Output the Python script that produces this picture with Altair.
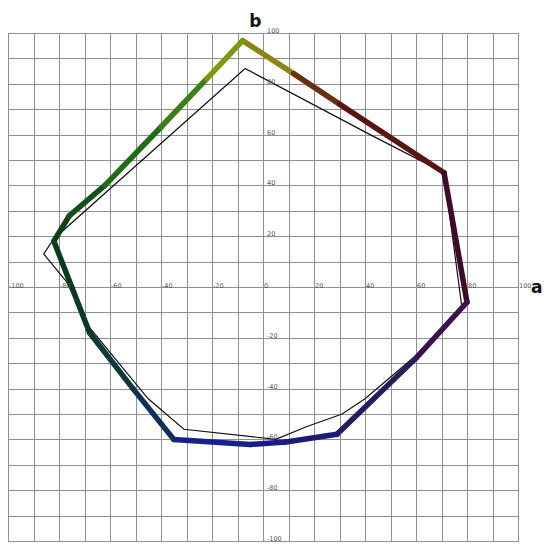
import altair as alt
import pandas as pd

# Thick coloured gamut outline (a*, b*) and segment colours
thick_a = [-8, 12, 30, 71, 80, 60, 29, 9, -5, -35, -51, -68, -75, -82, -76, -62, -40, -22, -8]
thick_b = [97, 84, 72, 45, -6, -28, -58, -61, -62, -60, -40, -18, 0, 18, 28, 40, 63, 82, 97]
seg_colors = ["#8a8614", "#6a3010", "#5a1512", "#3e0c28", "#3a1250", "#2a1a5e", "#1c1c78",
              "#1a1a8a", "#18208a", "#10305a", "#0e3a3a", "#0a3a26", "#0a3a1e",
              "#0f3f15", "#14521a", "#1e6e14", "#3a8012", "#7a9a10"]

# Thin black gamut outline
thin_a = [-7, 42, 71, 78, 60, 40, 31, 17, 5, -31, -45, -68, -77, -86, -82, -7]
thin_b = [86, 60, 45, -8, -27, -44, -50, -55, -60, -56, -44, -16, 2, 13, 19, 86]

# Tick labels
x_ticks = [-100, -80, -60, -40, -20, 0, 20, 40, 60, 80, 100]
y_ticks = [100, 80, 60, 40, 20, -20, -40, -60, -80, -100]

grid_vals = list(range(-100, 101, 10))
xs = alt.Scale(domain=[-100, 100], nice=False)
ys = alt.Scale(domain=[-100, 100], nice=False)


def ax():
    return alt.Axis(values=grid_vals, grid=True, labels=False, ticks=False, domain=False,
                    title=None, gridColor="#8f8f8f", gridWidth=1, gridOpacity=1)


def X(f="a:Q"):
    return alt.X(f, scale=xs, axis=ax())


def Y(f="b:Q"):
    return alt.Y(f, scale=ys, axis=ax())


segs = pd.DataFrame({
    "a": thick_a[:-1], "b": thick_b[:-1],
    "a2": thick_a[1:], "b2": thick_b[1:],
    "c": seg_colors,
})
thin = pd.DataFrame({"a": thin_a, "b": thin_b, "i": list(range(len(thin_a)))})
xl = pd.DataFrame({"a": x_ticks, "b": [0] * len(x_ticks), "t": [str(v) for v in x_ticks]})
yl = pd.DataFrame({"a": [0] * len(y_ticks), "b": y_ticks, "t": [str(v) for v in y_ticks]})

thin_line = alt.Chart(thin).mark_line(color="#111111", strokeWidth=1.2).encode(
    x=X(), y=Y(), order="i:Q",
)

thick = alt.Chart(segs).mark_rule(strokeWidth=5.5, strokeCap="round").encode(
    x=X(), y=Y(), x2="a2:Q", y2="b2:Q",
    color=alt.Color("c:N", scale=None),
)

xlab = alt.Chart(xl).mark_text(align="left", baseline="middle", dx=1, dy=-1,
                               fontSize=6.5, color="#555555", font="DejaVu Sans").encode(
    x=X(), y=Y(), text="t:N")
ylab = alt.Chart(yl).mark_text(align="left", baseline="middle", dx=4, dy=-2,
                               fontSize=6.5, color="#555555", font="DejaVu Sans").encode(
    x=X(), y=Y(), text="t:N")

axis_names = pd.DataFrame({"a": [-3, 107.3], "b": [104.5, -0.5], "t": ["b", "a"]})
names = alt.Chart(axis_names).mark_text(align="center", baseline="middle", fontSize=17,
                                        fontWeight="bold", color="#111111",
                                        font="DejaVu Sans").encode(
    x=X(), y=Y(), text="t:N")

chart = alt.layer(thin_line, thick, xlab, ylab, names).properties(
    width=510, height=508,
    autosize=alt.AutoSizeParams(type="none"),
    padding={"left": 0, "top": 25, "right": 24, "bottom": 3},
).configure_view(stroke="#8f8f8f", strokeWidth=1)

chart.save("out.html", embed_options={"renderer": "svg", "actions": False})
